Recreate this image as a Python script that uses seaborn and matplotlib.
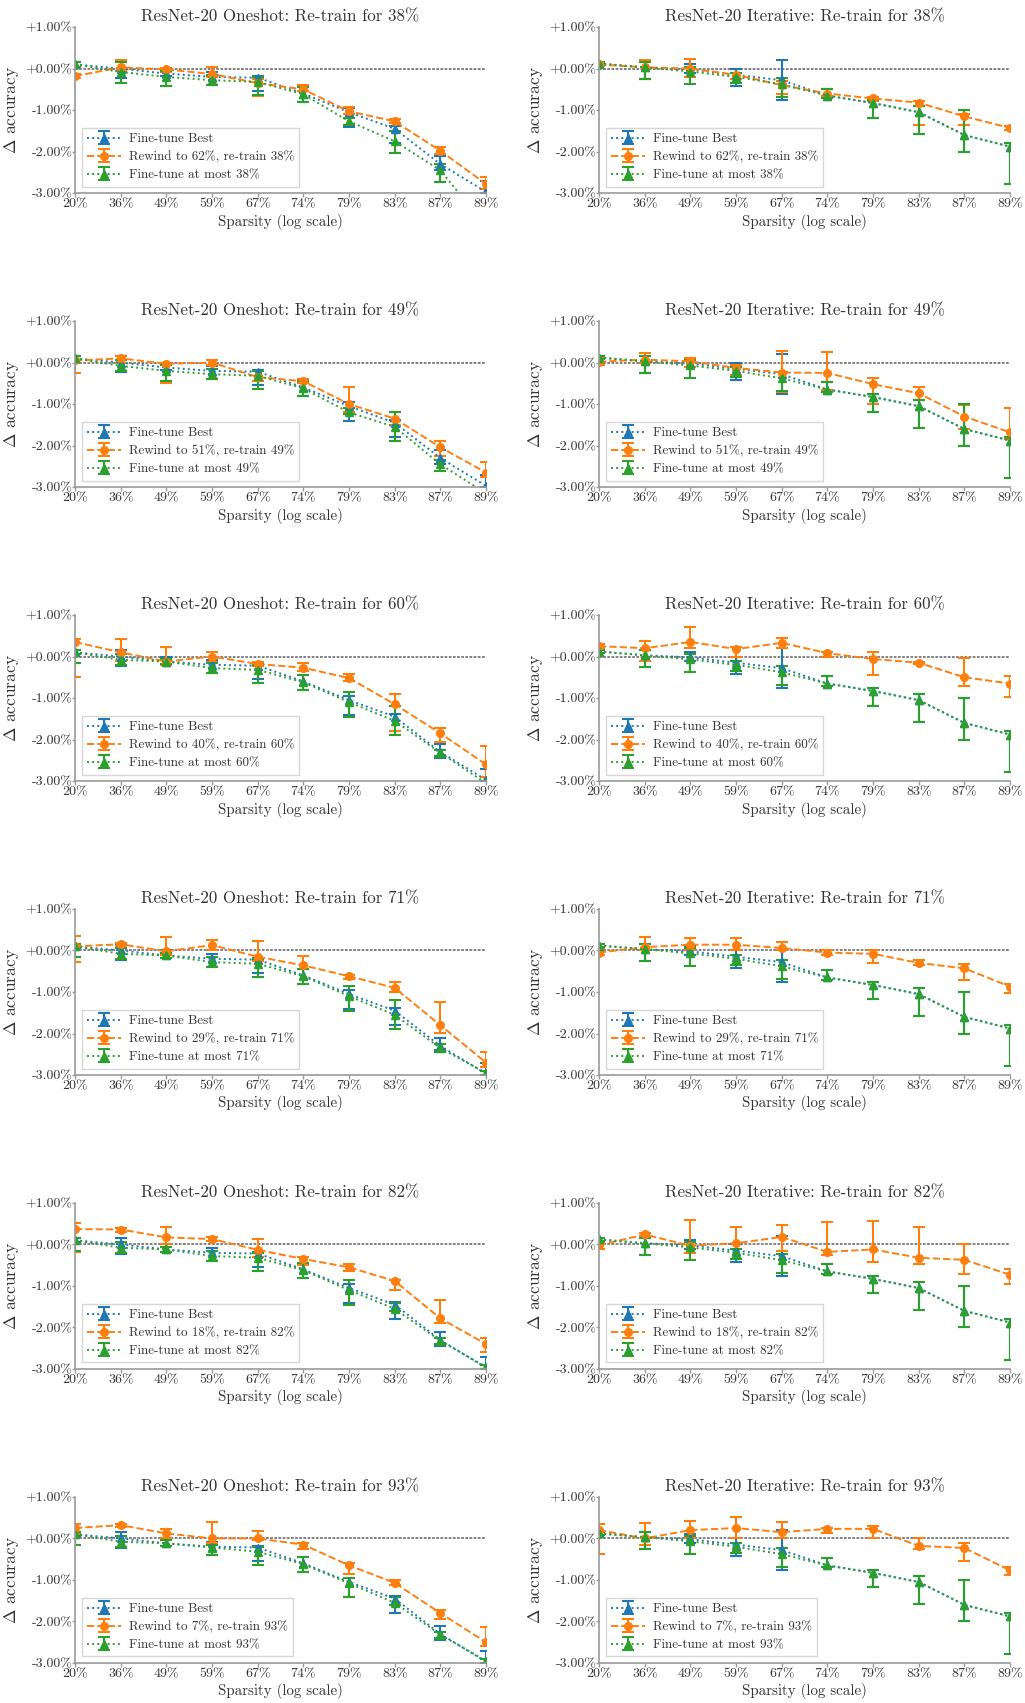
import numpy as np
import matplotlib
matplotlib.use("Agg")
import matplotlib.pyplot as plt
import seaborn as sns

# ---------------- data ----------------
x_labels = ['20%', '36%', '49%', '59%', '67%', '74%', '79%', '83%', '87%', '89%']
retrain = [38, 49, 60, 71, 82, 93]
rewind = [62, 51, 40, 29, 18, 7]
y_ticks = [1, 0, -1, -2, -3]
y_tick_labels = ['+1.00%', '+0.00%', '-1.00%', '-2.00%', '-3.00%']

# Oneshot, Fine-tune Best (same in every oneshot panel)
os_best_mean = [0.10, 0.00, -0.12, -0.20, -0.22, -0.60, -1.05, -1.45, -2.30, -2.97]
os_best_lo = [0.05, -0.22, -0.18, -0.40, -0.55, -0.80, -1.40, -1.80, -2.45, -3.00]
os_best_hi = [0.15, 0.15, 0.00, -0.08, -0.18, -0.45, -0.95, -1.38, -2.10, -2.70]

# Oneshot, Fine-tune at most X%  (one row per re-train amount)
os_most_mean = [
    [0.10, -0.08, -0.20, -0.28, -0.32, -0.62, -1.27, -1.75, -2.45, -3.80],
    [0.10, -0.08, -0.20, -0.28, -0.32, -0.62, -1.20, -1.55, -2.45, -3.15],
    [0.10, -0.08, -0.12, -0.28, -0.32, -0.62, -1.10, -1.55, -2.32, -3.05],
    [0.10, -0.08, -0.12, -0.28, -0.32, -0.62, -1.10, -1.55, -2.35, -2.95],
    [0.10, -0.08, -0.12, -0.28, -0.32, -0.62, -1.10, -1.55, -2.32, -2.95],
    [0.10, -0.08, -0.12, -0.22, -0.32, -0.62, -1.08, -1.55, -2.32, -2.95],
]
os_most_lo = [
    [0.05, -0.35, -0.42, -0.40, -0.63, -0.80, -1.35, -2.03, -2.72, -3.90],
    [0.05, -0.20, -0.45, -0.40, -0.63, -0.80, -1.25, -1.90, -2.60, -3.20],
    [-0.15, -0.20, -0.18, -0.40, -0.63, -0.80, -1.45, -1.90, -2.40, -3.10],
    [-0.15, -0.20, -0.18, -0.40, -0.63, -0.80, -1.45, -1.90, -2.40, -3.00],
    [-0.15, -0.20, -0.18, -0.40, -0.63, -0.80, -1.45, -1.60, -2.40, -3.00],
    [-0.15, -0.20, -0.18, -0.40, -0.63, -0.80, -1.40, -1.60, -2.40, -3.00],
]
os_most_hi = [
    [0.15, 0.15, -0.05, -0.15, -0.20, -0.45, -1.20, -1.50, -2.30, -3.70],
    [0.15, 0.05, -0.05, -0.15, -0.20, -0.45, -1.10, -1.20, -2.35, -3.10],
    [0.15, 0.05, -0.05, -0.15, -0.20, -0.45, -0.85, -1.20, -2.25, -3.00],
    [0.15, 0.05, -0.05, -0.15, -0.20, -0.45, -0.85, -1.20, -2.25, -2.90],
    [0.15, 0.05, -0.05, -0.15, -0.20, -0.45, -0.85, -1.40, -2.25, -2.90],
    [0.15, 0.05, -0.05, -0.15, -0.20, -0.45, -0.95, -1.40, -2.25, -2.90],
]

# Oneshot, Rewind
os_rew_mean = [
    [-0.18, 0.03, -0.02, -0.13, -0.35, -0.50, -1.03, -1.27, -1.98, -2.78],
    [0.05, 0.10, -0.03, 0.00, -0.35, -0.45, -1.00, -1.35, -2.04, -2.65],
    [0.35, 0.10, -0.12, 0.00, -0.18, -0.27, -0.52, -1.15, -1.85, -2.60],
    [0.10, 0.15, -0.02, 0.13, -0.15, -0.36, -0.62, -0.90, -1.80, -2.70],
    [0.37, 0.36, 0.17, 0.13, -0.13, -0.35, -0.55, -0.88, -1.78, -2.40],
    [0.25, 0.32, 0.12, 0.00, 0.00, -0.15, -0.65, -1.07, -1.80, -2.50],
]
os_rew_lo = [
    [-0.22, -0.05, -0.08, -0.20, -0.65, -0.55, -1.10, -1.32, -2.05, -2.90],
    [-0.25, 0.00, -0.50, -0.05, -0.45, -0.50, -1.20, -1.50, -2.25, -2.75],
    [-0.50, -0.10, -0.20, -0.12, -0.22, -0.35, -0.60, -1.80, -2.05, -2.90],
    [-0.27, 0.10, -0.10, 0.00, -0.25, -0.45, -0.68, -1.00, -1.98, -2.80],
    [-0.18, 0.30, 0.00, 0.08, -0.30, -0.50, -0.65, -1.10, -1.88, -2.60],
    [0.10, 0.28, 0.00, -0.10, -0.05, -0.25, -0.85, -1.12, -1.95, -2.60],
]
os_rew_hi = [
    [-0.14, 0.20, 0.02, 0.05, -0.25, -0.40, -0.92, -1.22, -1.90, -2.60],
    [0.15, 0.15, 0.00, 0.05, -0.20, -0.40, -0.58, -1.20, -1.88, -2.40],
    [0.42, 0.43, 0.22, 0.12, -0.12, -0.15, -0.42, -0.90, -1.72, -2.15],
    [0.35, 0.18, 0.32, 0.25, 0.24, -0.13, -0.58, -0.77, -1.25, -2.45],
    [0.52, 0.40, 0.42, 0.17, 0.12, -0.30, -0.48, -0.85, -1.33, -2.25],
    [0.35, 0.35, 0.22, 0.40, 0.17, -0.10, -0.58, -1.00, -1.72, -2.13],
]

# Iterative, Fine-tune Best (same in every iterative panel)
it_best_mean = [0.12, 0.03, -0.02, -0.15, -0.28, -0.65, -0.83, -1.05, -1.60, -1.88]
it_best_lo = [0.08, -0.25, -0.10, -0.43, -0.75, -0.70, -1.18, -1.57, -2.00, -2.78]
it_best_hi = [0.16, 0.15, 0.10, 0.00, 0.20, -0.48, -0.75, -0.90, -1.00, -1.80]

# Iterative, Fine-tune at most X% (same in every iterative panel)
it_most_mean = [0.12, 0.03, -0.07, -0.20, -0.38, -0.65, -0.83, -1.05, -1.60, -1.88]
it_most_lo = [0.08, -0.25, -0.37, -0.35, -0.68, -0.70, -1.18, -1.57, -2.00, -2.78]
it_most_hi = [0.16, 0.15, 0.05, -0.10, -0.22, -0.48, -0.75, -0.90, -1.00, -1.80]

# Iterative, Rewind
it_rew_mean = [
    [0.10, 0.03, 0.00, -0.15, -0.40, -0.60, -0.72, -0.82, -1.15, -1.43],
    [0.02, 0.07, 0.03, -0.13, -0.24, -0.25, -0.52, -0.74, -1.30, -1.68],
    [0.25, 0.20, 0.35, 0.18, 0.33, 0.08, -0.06, -0.15, -0.50, -0.65],
    [-0.05, 0.08, 0.14, 0.14, 0.06, -0.05, -0.08, -0.30, -0.43, -0.87],
    [-0.02, 0.24, -0.03, 0.03, 0.18, -0.18, -0.12, -0.32, -0.37, -0.73],
    [0.20, 0.00, 0.20, 0.25, 0.15, 0.23, 0.23, -0.18, -0.23, -0.77],
]
it_rew_lo = [
    [0.06, -0.25, -0.20, -0.25, -0.60, -0.65, -0.77, -1.35, -1.35, -1.48],
    [-0.05, 0.00, -0.10, -0.30, -0.70, -0.65, -1.00, -0.90, -1.60, -1.85],
    [0.20, -0.10, 0.20, 0.00, 0.20, 0.00, -0.45, -0.18, -0.72, -0.97],
    [-0.10, 0.00, 0.00, 0.00, 0.00, -0.12, -0.30, -0.35, -0.72, -1.02],
    [-0.10, 0.20, -0.20, -0.10, -0.15, -0.25, -0.43, -0.48, -0.72, -0.95],
    [-0.38, -0.15, 0.00, 0.00, 0.00, 0.12, 0.00, -0.25, -0.55, -0.88],
]
it_rew_hi = [
    [0.14, 0.20, 0.22, -0.10, -0.30, -0.50, -0.68, -0.77, -1.10, -1.38],
    [0.10, 0.22, 0.12, -0.05, 0.27, 0.25, -0.38, -0.60, -1.02, -1.10],
    [0.30, 0.37, 0.70, 0.22, 0.45, 0.12, 0.10, -0.12, -0.03, -0.47],
    [0.05, 0.32, 0.30, 0.30, 0.20, 0.02, 0.00, -0.23, -0.33, -0.80],
    [0.05, 0.28, 0.58, 0.43, 0.47, 0.53, 0.56, 0.42, 0.00, -0.60],
    [0.35, 0.37, 0.42, 0.52, 0.40, 0.25, 0.30, 0.00, -0.10, -0.68],
]

# ---------------- style ----------------
sns.set_theme(style="ticks")
plt.rcParams['font.family'] = ['cmr10', 'DejaVu Serif']
plt.rcParams['mathtext.fontset'] = 'cm'
plt.rcParams['axes.unicode_minus'] = False
plt.rcParams['axes.formatter.use_mathtext'] = True

pal = sns.color_palette("tab10")
c_best, c_rew, c_most = pal[0], pal[1], pal[2]
text_col = '#333333'
spine_col = '#999999'

fig, axes = plt.subplots(6, 2, figsize=(10.25, 17.03), dpi=100)
fig.subplots_adjust(left=0.0732, right=0.9854, top=0.9841, bottom=0.0235,
                    wspace=0.275, hspace=0.77)

x = np.arange(len(x_labels))


def yerr(mean, lo, hi):
    mean = np.asarray(mean)
    return [np.clip(mean - np.asarray(lo), 0, None), np.clip(np.asarray(hi) - mean, 0, None)]


def draw(ax, series, title):
    for mean, lo, hi, color, ls, mk, lab in series:
        ax.errorbar(x, mean, yerr=yerr(mean, lo, hi), color=color, linestyle=ls,
                    marker=mk, markersize=5.5, linewidth=1.4,
                    elinewidth=1.5, capsize=4, capthick=1.5, label=lab)
    ax.axhline(0, color='#777777', lw=1.3, ls=(0, (1.5, 0.8)), zorder=0.5)
    ax.set_xlim(0, 9)
    ax.set_ylim(-3, 1)
    ax.set_xticks(x)
    ax.set_xticklabels(x_labels)
    ax.set_yticks(y_ticks)
    ax.set_yticklabels(y_tick_labels)
    ax.tick_params(axis='both', labelsize=10, colors=spine_col, labelcolor=text_col,
                   width=1)
    ax.tick_params(axis='x', length=3, pad=1)
    ax.tick_params(axis='y', length=2, pad=0)
    for s in ['left', 'bottom']:
        ax.spines[s].set_color(spine_col)
        ax.spines[s].set_linewidth(1.2)
    sns.despine(ax=ax)
    ax.set_title(title, fontsize=12.2, color=text_col, pad=4)
    ax.set_xlabel('Sparsity (log scale)', fontsize=10.8, color=text_col, labelpad=2)
    ax.set_ylabel(r'$\Delta$ accuracy', fontsize=12.5, color=text_col, labelpad=3)
    leg = ax.legend(loc='lower left', fontsize=9.4, frameon=True, fancybox=False,
                    borderaxespad=0.5, handlelength=2.6, handletextpad=0.6,
                    labelspacing=0.45)
    leg.get_frame().set_edgecolor('#cccccc')
    leg.get_frame().set_linewidth(1.0)
    for t in leg.get_texts():
        t.set_color(text_col)


for i, (rt, rw) in enumerate(zip(retrain, rewind)):
    # Oneshot column
    draw(axes[i, 0], [
        (os_best_mean, os_best_lo, os_best_hi, c_best, ':', '^', 'Fine-tune Best'),
        (os_rew_mean[i], os_rew_lo[i], os_rew_hi[i], c_rew, '--', 'o',
         f'Rewind to {rw}%, re-train {rt}%'),
        (os_most_mean[i], os_most_lo[i], os_most_hi[i], c_most, ':', '^',
         f'Fine-tune at most {rt}%'),
    ], f'ResNet-20 Oneshot: Re-train for {rt}%')
    # Iterative column
    draw(axes[i, 1], [
        (it_best_mean, it_best_lo, it_best_hi, c_best, ':', '^', 'Fine-tune Best'),
        (it_rew_mean[i], it_rew_lo[i], it_rew_hi[i], c_rew, '--', 'o',
         f'Rewind to {rw}%, re-train {rt}%'),
        (it_most_mean, it_most_lo, it_most_hi, c_most, ':', '^',
         f'Fine-tune at most {rt}%'),
    ], f'ResNet-20 Iterative: Re-train for {rt}%')

fig.savefig('out.png', dpi=100)
